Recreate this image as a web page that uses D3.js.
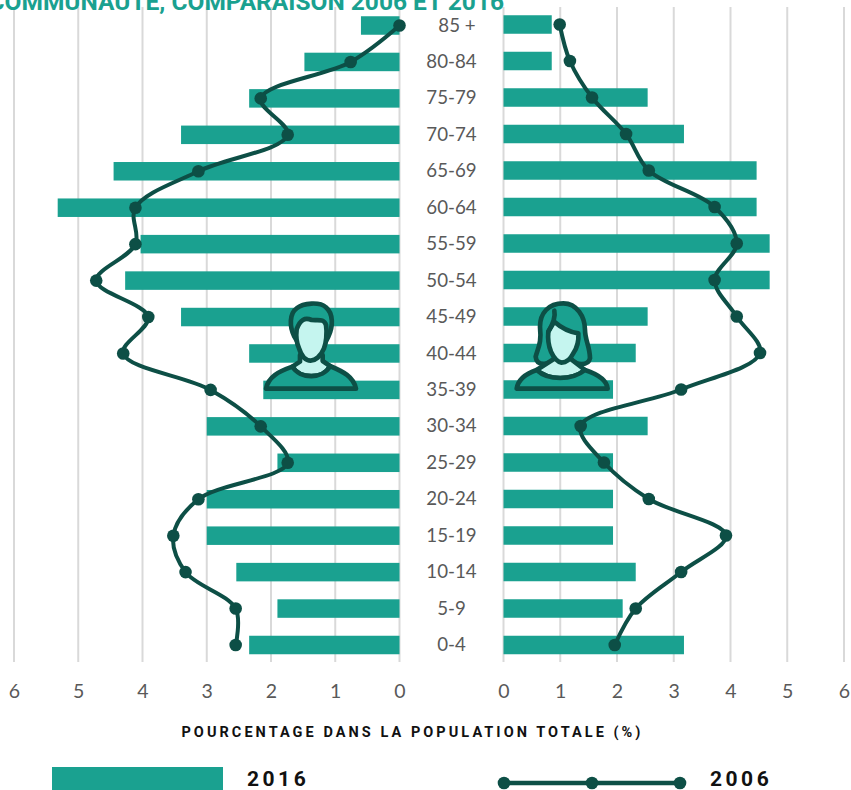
<!DOCTYPE html>
<html><head><meta charset="utf-8">
<script src="https://cdn.jsdelivr.net/npm/d3@7/dist/d3.min.js"></script>
<style>html,body{margin:0;padding:0;background:#fff;overflow:hidden}svg{display:block}</style>
</head><body><div id="c"></div>
<script>
const ages=["85 +","80-84","75-79","70-74","65-69","60-64","55-59","50-54","45-49","40-44","35-39","30-34","25-29","20-24","15-19","10-14","5-9","0-4"];
const men2016=[0.6,1.48,2.34,3.4,4.45,5.32,4.03,4.27,3.4,2.34,2.12,3.0,1.9,3.0,3.0,2.54,1.9,2.34];
const men2006=[0,0.76,2.16,1.74,3.13,4.11,4.11,4.72,3.91,4.3,2.94,2.16,1.74,3.13,3.52,3.33,2.55,2.55];
const women2016=[0.85,0.85,2.54,3.18,4.46,4.46,4.69,4.69,2.54,2.33,1.93,2.54,1.93,1.93,1.93,2.33,2.1,3.18];
const women2006=[0.99,1.17,1.56,2.16,2.56,3.72,4.11,3.72,4.11,4.52,3.13,1.36,1.77,2.56,3.92,3.13,2.33,1.96];
const ticks=[0,1,2,3,4,5,6];
const titleText="COMMUNAUTÉ, COMPARAISON 2006 ET 2016";
const axisTitle="POURCENTAGE DANS LA POPULATION TOTALE (%)";
const legendLabels=["2016","2006"];

const W=851,H=790,TEAL="#1aa190",DARK="#0d4f46",LIGHT="#c5f5ef",GRID="#d9d9d9",TXT="#595959";
const labelFont="Lato, 'Open Sans', sans-serif", headFont="Roboto, 'Liberation Sans', sans-serif";
const svg=d3.select("#c").append("svg").attr("width",W).attr("height",H);
const xL=d3.scaleLinear().domain([0,6]).range([399.5,14]);
const xR=d3.scaleLinear().domain([0,6]).range([503.5,844]);
const yL=d3.scalePoint().domain(ages).range([25.5,645]);
const yR=d3.scalePoint().domain(ages).range([24.5,645]);
const barH=18.5;

function side(xs,y,bars,pts){
  const g=svg.append("g");
  const ax=d3.axisBottom(xs).tickValues(ticks).tickSize(0).tickPadding(0).tickFormat(d3.format("d"));
  const a=g.append("g").attr("transform","translate(0,681)").call(ax);
  a.select(".domain").remove();
  a.selectAll("text").attr("y",0).attr("dy","0.85em").attr("fill",TXT).style("font-family",labelFont).style("font-size","19.5px");
  g.selectAll("line.grid").data(ticks).join("line").attr("class","grid")
    .attr("x1",d=>xs(d)).attr("x2",d=>xs(d)).attr("y1",7).attr("y2",662)
    .attr("stroke",GRID).attr("stroke-width",2);
  g.selectAll("rect").data(bars).join("rect")
    .attr("x",d=>Math.min(xs(0),xs(d))).attr("width",d=>Math.abs(xs(d)-xs(0)))
    .attr("y",(d,i)=>y(ages[i])-barH/2).attr("height",barH).attr("fill",TEAL);
  return ()=>{
    const line=d3.line().x(d=>xs(d)).y((d,i)=>y(ages[i])).curve(d3.curveCatmullRom.alpha(0.5));
    g.append("path").attr("d",line(pts)).attr("fill","none").attr("stroke",DARK).attr("stroke-width",4);
    g.selectAll("circle").data(pts).join("circle")
      .attr("cx",d=>xs(d)).attr("cy",(d,i)=>y(ages[i])).attr("r",6.3).attr("fill",DARK);
  };
}
const drawL=side(xL,yL,men2016,men2006), drawR=side(xR,yR,women2016,women2006);

svg.append("g").selectAll("text").data(ages).join("text")
  .attr("x",(d,i)=>i===0?457:451.5).attr("y",d=>yL(d)-0.5).attr("dy","0.35em").attr("text-anchor","middle")
  .attr("fill",TXT).style("font-family",labelFont).style("font-size","18.7px").text(d=>d);

svg.append("text").attr("x",504).attr("y",10).attr("text-anchor","end").attr("fill",TEAL)
  .style("font-family",headFont).style("font-weight",700).style("font-size","24.5px").text(titleText);

function man(){
  const g=svg.append("g").attr("transform","translate(250,290) scale(0.3333)")
    .attr("stroke",DARK).attr("stroke-width",14).attr("stroke-linejoin","round").attr("stroke-linecap","round");
  g.append("path").attr("fill",TEAL).attr("d","M133,140 C118,110 118,70 140,55 C160,38 210,35 228,52 C250,70 250,110 235,140 L225,160 L145,160 Z");
  g.append("path").attr("fill",LIGHT).attr("d","M150,195 L150,215 L127,230 C150,268 220,268 240,228 L218,213 L218,195 Z");
  g.append("path").attr("fill",TEAL).attr("d","M48,296 L318,296 C310,260 280,245 240,228 C220,268 150,268 127,230 C85,245 55,260 48,296 Z");
  g.append("path").attr("fill",LIGHT).attr("d","M140,118 C150,88 165,82 185,90 C205,92 222,85 228,105 C232,130 228,160 222,175 C212,200 195,212 182,212 C165,212 155,200 147,175 C140,160 138,135 140,118 Z");
}
function woman(){
  const g=svg.append("g").attr("transform","translate(505,290) scale(0.3333)")
    .attr("stroke",DARK).attr("stroke-width",14).attr("stroke-linejoin","round").attr("stroke-linecap","round");
  g.append("path").attr("fill",TEAL).attr("d","M92,200 C100,170 110,160 105,110 C105,70 130,40 175,40 C215,40 240,80 240,120 C240,150 255,170 255,205 C250,228 215,228 195,205 L150,205 C130,228 95,228 92,200 Z");
  g.append("path").attr("fill",LIGHT).attr("d","M150,205 L95,240 C130,272 200,272 240,240 L195,205 Z");
  g.append("path").attr("fill",TEAL).attr("d","M35,296 L308,296 C305,265 270,250 240,240 C200,272 130,272 95,240 C65,250 40,265 35,296 Z");
  g.append("path").attr("fill",LIGHT).attr("d","M130,125 L148,95 C165,110 190,125 220,130 C222,155 215,175 205,190 C195,210 180,218 170,218 C155,215 145,200 138,185 C130,165 128,145 130,125 Z");
  g.append("path").attr("fill","none").attr("d","M148,62 C152,80 145,100 130,125");
}
man();woman();
drawL();drawR();

svg.append("text").attr("x",412.5).attr("y",737).attr("text-anchor","middle").attr("fill","#111")
  .style("font-family",headFont).style("font-weight",700).style("font-size","14.5px").style("letter-spacing","3.05px").text(axisTitle);

svg.append("rect").attr("x",52).attr("y",767).attr("width",171).attr("height",23).attr("fill",TEAL);
svg.append("text").attr("x",247).attr("y",786).attr("fill","#111").style("font-family",headFont).style("font-weight",700).style("font-size","21px").style("letter-spacing","3.5px").text(legendLabels[0]);
const lx=d3.scalePoint().domain([0,1,2]).range([504,680]);
svg.append("path").attr("d",d3.line().x(d=>lx(d)).y(783)([0,1,2])).attr("stroke",DARK).attr("stroke-width",4.5).attr("fill","none");
svg.append("g").selectAll("circle").data([0,1,2]).join("circle").attr("cx",d=>lx(d)).attr("cy",783).attr("r",6.3).attr("fill",DARK);
svg.append("text").attr("x",710).attr("y",786).attr("fill","#111").style("font-family",headFont).style("font-weight",700).style("font-size","21px").style("letter-spacing","3.5px").text(legendLabels[1]);
</script></body></html>
